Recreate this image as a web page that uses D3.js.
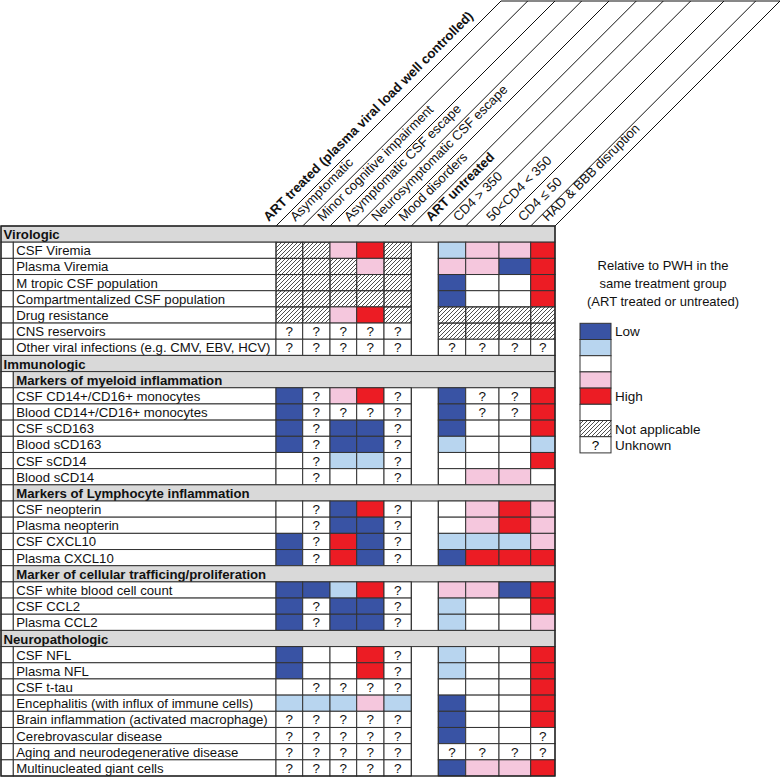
<!DOCTYPE html>
<html>
<head>
<meta charset="utf-8">
<script src="https://cdn.jsdelivr.net/npm/d3@7"></script>
<style>
  body { margin: 0; background: #fff; }
  svg { display: block; font-family: "Liberation Sans", Arial, sans-serif; }
</style>
</head>
<body>
<div id="chart"></div>
<script>
// header labels (first one sits over the label column, the rest over the columns)
const headerLabels = [
  "ART treated (plasma viral load well controlled)",
  "Asymptomatic",
  "Minor cognitive impairment",
  "Asymptomatic CSF escape",
  "Neurosymptomatic CSF escape",
  "Mood disorders",
  "ART untreated",
  "CD4 > 350",
  "50<CD4 < 350",
  "CD4 ≤ 50",
  "HAD & BBB disruption"
];
const boldHeaders = ["ART treated (plasma viral load well controlled)", "ART untreated"];

// data columns (ART untreated is the empty separator column)
const columns = headerLabels.slice(1);
const gapColumn = "ART untreated";

// rows: kind = section / sub / item
const rowLabels = [
  "Virologic",
  "CSF Viremia", "Plasma Viremia", "M tropic CSF population", "Compartmentalized CSF population",
  "Drug resistance", "CNS reservoirs", "Other viral infections (e.g. CMV, EBV, HCV)",
  "Immunologic",
  "Markers of myeloid inflammation",
  "CSF CD14+/CD16+ monocytes", "Blood CD14+/CD16+ monocytes", "CSF sCD163", "Blood sCD163",
  "CSF sCD14", "Blood sCD14",
  "Markers of Lymphocyte inflammation",
  "CSF neopterin", "Plasma neopterin", "CSF CXCL10", "Plasma CXCL10",
  "Marker of cellular trafficing/proliferation",
  "CSF white blood cell count", "CSF CCL2", "Plasma CCL2",
  "Neuropathologic",
  "CSF NFL", "Plasma NFL", "CSF t-tau", "Encephalitis (with influx of immune cells)",
  "Brain inflammation (activated macrophage)", "Cerebrovascular disease",
  "Aging and neurodegenerative disease", "Multinucleated giant cells"
];
const rowKinds = [
  "section",
  "item", "item", "item", "item", "item", "item", "item",
  "section",
  "sub",
  "item", "item", "item", "item", "item", "item",
  "sub",
  "item", "item", "item", "item",
  "sub",
  "item", "item", "item",
  "section",
  "item", "item", "item", "item", "item", "item", "item", "item"
];

// cell codes: D low, L low-ish, W neutral, P high-ish, R high, H not applicable, ? unknown
// order: 5 treated columns | 4 untreated columns
const cellValues = [
  null,
  ["H","H","P","R","H",  "L","P","P","R"],
  ["H","H","H","P","H",  "P","P","D","R"],
  ["H","H","H","H","H",  "D","W","W","R"],
  ["H","H","H","H","H",  "D","W","W","R"],
  ["H","H","P","R","H",  "H","H","H","H"],
  ["?","?","?","?","?",  "H","H","H","H"],
  ["?","?","?","?","?",  "?","?","?","?"],
  null,
  null,
  ["D","?","P","R","?",  "D","?","?","R"],
  ["D","?","?","?","?",  "D","?","?","R"],
  ["D","?","D","D","?",  "D","W","W","R"],
  ["D","?","D","D","?",  "L","W","W","L"],
  ["W","?","L","L","?",  "W","W","W","R"],
  ["W","?","W","W","?",  "W","P","P","W"],
  null,
  ["W","?","D","R","?",  "W","P","R","P"],
  ["W","?","D","D","?",  "W","P","R","P"],
  ["D","?","R","D","?",  "L","L","L","P"],
  ["D","?","R","D","?",  "D","R","R","R"],
  null,
  ["D","D","L","R","?",  "P","P","D","R"],
  ["D","?","D","D","?",  "L","W","W","R"],
  ["D","?","D","D","?",  "L","W","W","P"],
  null,
  ["D","W","W","R","?",  "L","W","W","R"],
  ["D","W","W","R","?",  "L","W","W","R"],
  ["W","?","?","?","?",  "W","W","W","R"],
  ["L","L","L","P","L",  "D","W","W","R"],
  ["?","?","?","?","?",  "D","W","W","R"],
  ["?","?","?","?","?",  "D","W","W","?"],
  ["?","?","?","?","?",  "?","?","?","?"],
  ["?","?","?","?","?",  "D","P","P","R"]
];

// legend
const legendCodes  = ["D", "L", "W", "P", "R", "W", "H", "?"];
const legendLabels = ["Low", "", "", "", "High", "", "Not applicable", "Unknown"];
const legendTitle  = ["Relative to PWH in the", "same treatment group", "(ART treated or untreated)"];

// ---- layout ----
const W = 780, H = 779;
const tableTop = 226, tableBottom = 776;
const tableLeft = 1, boxRight = 13.3, labelRight = 276, tableRight = 555;
const colEdges = [276, 302.7, 330, 356.7, 384, 411.3, 438.3, 465.7, 499, 530.7, 555];
const lineColor = "#333";
const rowFont = 13.2;

const svg = d3.select("#chart").append("svg")
  .attr("width", W)
  .attr("height", H);

// hatch pattern
svg.append("defs").append("pattern")
  .attr("id", "hatch")
  .attr("patternUnits", "userSpaceOnUse")
  .attr("width", 4).attr("height", 4)
  .append("path")
  .attr("d", "M-1,1 l2,-2 M0,4 l4,-4 M3,5 l2,-2")
  .attr("stroke", "#222")
  .attr("stroke-width", 0.8);

const colors = d3.scaleOrdinal()
  .domain(["D", "L", "W", "P", "R", "H", "?"])
  .range(["#3953a4", "#b8d5ef", "#ffffff", "#f5c7dd", "#ec1c24", "url(#hatch)", "#ffffff"]);

// scales
const y = d3.scaleBand()
  .domain(d3.range(rowLabels.length))
  .range([tableTop, tableBottom]);

const x = d3.scaleOrdinal()
  .domain(columns)
  .range(colEdges.slice(0, -1));
const colW = d3.scaleOrdinal()
  .domain(columns)
  .range(d3.pairs(colEdges).map(([a, b]) => b - a));

// ---- header: diagonal lines + rotated labels ----
const rise = tableTop - 1;
const head = svg.append("g");

head.selectAll("line.diag")
  .data(colEdges)
  .enter().append("line")
  .attr("x1", d => d).attr("y1", tableTop)
  .attr("x2", d => d + rise).attr("y2", 1)
  .attr("stroke", "#111")
  .attr("stroke-width", 1);

head.append("line")
  .attr("x1", colEdges[0] + rise).attr("y1", 1)
  .attr("x2", W).attr("y2", 1)
  .attr("stroke", "#111");

head.selectAll("text")
  .data(headerLabels)
  .enter().append("text")
  .attr("transform", (d, i) => {
    const px = colEdges[i] + 4 - 8 * Math.SQRT2;
    const py = tableTop - 4;
    return `translate(${px},${py}) rotate(-45)`;
  })
  .attr("font-size", 13.2)
  .attr("font-weight", d => boldHeaders.includes(d) ? "bold" : "normal")
  .attr("fill", "#111")
  .text(d => d);

// ---- table ----
const table = svg.append("g");

const rowG = table.selectAll("g.row")
  .data(rowLabels.map((label, i) => ({ label, kind: rowKinds[i], values: cellValues[i], i })))
  .enter().append("g")
  .attr("class", "row");

// section rows: full width grey
rowG.filter(d => d.kind === "section").append("rect")
  .attr("x", tableLeft).attr("y", d => y(d.i))
  .attr("width", tableRight - tableLeft).attr("height", y.bandwidth())
  .attr("fill", "#d9d9d9").attr("stroke", lineColor);

// left box for sub and item rows
rowG.filter(d => d.kind !== "section").append("rect")
  .attr("x", tableLeft).attr("y", d => y(d.i))
  .attr("width", boxRight - tableLeft).attr("height", y.bandwidth())
  .attr("fill", "#fff").attr("stroke", lineColor);

// sub rows: grey from box to right
rowG.filter(d => d.kind === "sub").append("rect")
  .attr("x", boxRight).attr("y", d => y(d.i))
  .attr("width", tableRight - boxRight).attr("height", y.bandwidth())
  .attr("fill", "#d9d9d9").attr("stroke", lineColor);

// item rows: label cell
rowG.filter(d => d.kind === "item").append("rect")
  .attr("x", boxRight).attr("y", d => y(d.i))
  .attr("width", labelRight - boxRight).attr("height", y.bandwidth())
  .attr("fill", "#fff").attr("stroke", lineColor);

// value cells
const dataCols = columns.filter(c => c !== gapColumn);
const cells = rowG.filter(d => d.kind === "item")
  .selectAll("g.cell")
  .data(d => d.values.map((v, j) => ({ v, col: dataCols[j], row: d.i })))
  .enter().append("g")
  .attr("class", "cell");

cells.append("rect")
  .attr("x", d => x(d.col)).attr("y", d => y(d.row))
  .attr("width", d => colW(d.col)).attr("height", y.bandwidth())
  .attr("fill", d => colors(d.v))
  .attr("stroke", lineColor);

cells.filter(d => d.v === "?").append("text")
  .attr("x", d => x(d.col) + colW(d.col) / 2)
  .attr("y", d => y(d.row) + y.bandwidth() / 2 + 5)
  .attr("text-anchor", "middle")
  .attr("font-size", 13.5)
  .attr("fill", "#111")
  .text("?");

// gap column side lines through item rows
rowG.filter(d => d.kind === "item").selectAll("line.gap")
  .data(d => [x(gapColumn), x(gapColumn) + colW(gapColumn)].map(xx => ({ xx, row: d.i })))
  .enter().append("line")
  .attr("x1", d => d.xx).attr("x2", d => d.xx)
  .attr("y1", d => y(d.row)).attr("y2", d => y(d.row) + y.bandwidth())
  .attr("stroke", lineColor);

// row labels
rowG.append("text")
  .attr("x", d => d.kind === "section" ? tableLeft + 2.5 : boxRight + 3)
  .attr("y", d => y(d.i) + y.bandwidth() / 2 + 5)
  .attr("font-size", rowFont)
  .attr("font-weight", d => d.kind === "item" ? "normal" : "bold")
  .attr("fill", "#111")
  .text(d => d.label);

// outer border
table.append("rect")
  .attr("x", tableLeft).attr("y", tableTop)
  .attr("width", tableRight - tableLeft).attr("height", tableBottom - tableTop)
  .attr("fill", "none").attr("stroke", "#222").attr("stroke-width", 1.3);

// ---- legend ----
const legend = svg.append("g");
const lgX = 580, lgW = 31, lgTop = 323.3, lgH = 16.2;

legend.selectAll("text.title")
  .data(legendTitle)
  .enter().append("text")
  .attr("x", 663)
  .attr("y", (d, i) => 270 + i * 18)
  .attr("text-anchor", "middle")
  .attr("font-size", 13)
  .attr("fill", "#111")
  .text(d => d);

const lgItems = legend.selectAll("g.item")
  .data(legendCodes.map((c, i) => ({ c, label: legendLabels[i], i })))
  .enter().append("g");

lgItems.append("rect")
  .attr("x", lgX).attr("y", d => lgTop + d.i * lgH)
  .attr("width", lgW).attr("height", lgH)
  .attr("fill", d => colors(d.c))
  .attr("stroke", lineColor);

lgItems.filter(d => d.c === "?").append("text")
  .attr("x", lgX + lgW / 2)
  .attr("y", d => lgTop + d.i * lgH + lgH / 2 + 5)
  .attr("text-anchor", "middle")
  .attr("font-size", 13.5)
  .text("?");

lgItems.append("text")
  .attr("x", lgX + lgW + 4)
  .attr("y", d => lgTop + d.i * lgH + lgH / 2 + 5)
  .attr("font-size", 13.5)
  .attr("fill", "#111")
  .text(d => d.label);
</script>
</body>
</html>
